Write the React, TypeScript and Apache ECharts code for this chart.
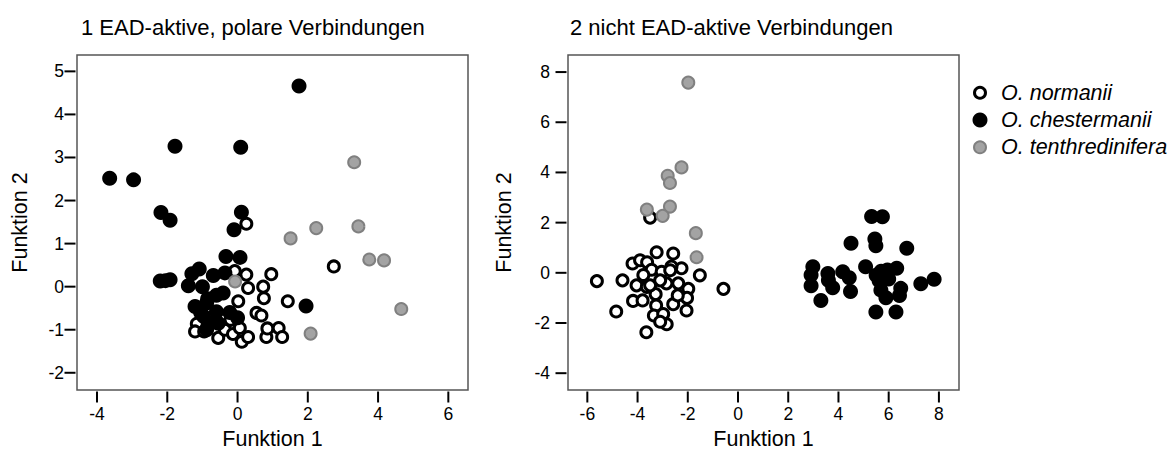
import React, { useEffect, useRef } from "react";
import * as echarts from "echarts";

const titles = ["1 EAD-aktive, polare Verbindungen", "2 nicht EAD-aktive Verbindungen"];
const species = ["O. normanii", "O. chestermanii", "O. tenthredinifera"];
const xName = "Funktion 1";
const yName = "Funktion 2";

const xTicks1 = [-4, -2, 0, 2, 4, 6];
const yTicks1 = [-2, -1, 0, 1, 2, 3, 4, 5];
const xTicks2 = [-6, -4, -2, 0, 2, 4, 6, 8];
const yTicks2 = [-4, -2, 0, 2, 4, 6, 8];

// Panel 1: EAD-aktive, polare Verbindungen
const normanii1 = [
  [0.25, 1.46], [2.74, 0.47], [0.25, 0.28], [0.96, 0.29], [0.73, 0.0], [0.3, -0.03],
  [-0.08, 0.36], [0.75, -0.27], [1.43, -0.34], [0.02, -0.34], [0.54, -0.61], [0.68, -0.67],
  [-1.16, -0.86], [-1.21, -1.04], [-0.95, -1.04], [-0.55, -1.19], [-0.36, -1.0], [-0.13, -1.1],
  [0.065, -0.96], [0.12, -1.28], [0.3, -1.17], [0.82, -1.17], [0.85, -0.97], [1.17, -0.96],
  [1.27, -1.17], [-0.2, -0.77],
];
const chestermanii1 = [
  [1.75, 4.66], [-1.78, 3.26], [0.09, 3.24], [-3.64, 2.52], [-2.96, 2.48], [-2.18, 1.72],
  [-1.92, 1.54], [0.11, 1.73], [-0.1, 1.32], [-0.33, 0.7], [0.07, 0.68], [-2.2, 0.13],
  [-2.05, 0.14], [-1.92, 0.16], [1.95, -0.45], [-1.3, 0.3], [-1.09, 0.41], [-1.4, 0.02],
  [-0.69, 0.26], [-0.36, 0.32], [-1.0, 0.0], [-0.41, -0.15], [-0.85, -0.28], [-1.21, -0.46],
  [-0.88, -0.38], [-0.6, -0.58], [-0.22, -0.6], [0.0, -0.72], [-0.97, -0.69], [-0.8, -0.85],
  [-0.88, -1.0], [-1.05, -0.6], [-0.55, -0.85], [-0.6, -0.2],
];
const tenthredinifera1 = [
  [-0.07, 0.12], [1.51, 1.12], [2.24, 1.36], [3.32, 2.89], [3.44, 1.4], [3.75, 0.63],
  [4.17, 0.61], [4.66, -0.52], [2.08, -1.09],
];

// Panel 2: nicht EAD-aktive Verbindungen
const normanii2 = [
  [-5.62, -0.33], [-4.85, -1.54], [-0.58, -0.64], [-3.65, -2.37], [-3.5, 2.2], [-4.6, -0.3],
  [-4.2, 0.37], [-3.9, 0.5], [-3.62, 0.42], [-3.24, 0.82], [-2.58, 0.77], [-3.44, 0.12],
  [-3.04, 0.04], [-2.25, 0.18], [-2.65, 0.25], [-3.77, -0.09], [-4.04, -0.5], [-3.63, -0.56],
  [-2.85, -0.42], [-2.38, -0.42], [-1.98, -0.64], [-1.52, -0.1], [-4.18, -1.12], [-3.8, -1.1],
  [-3.28, -0.85], [-3.26, -1.3], [-2.58, -1.25], [-2.03, -1.0], [-2.05, -1.5], [-3.35, -1.7],
  [-2.98, -1.64], [-2.84, -2.05], [-3.1, -1.95], [-2.7, 0.1], [-3.5, -0.5], [-3.1, -0.3],
  [-2.4, -0.9],
];
const chestermanii2 = [
  [5.32, 2.24], [5.75, 2.23], [4.5, 1.18], [5.45, 1.35], [5.49, 1.08], [6.72, 0.98],
  [5.08, 0.24], [2.98, 0.24], [2.91, -0.09], [2.91, -0.52], [3.58, -0.03], [3.77, -0.6],
  [3.3, -1.1], [4.17, 0.04], [4.43, -0.2], [4.48, -0.74], [5.7, 0.06], [5.95, 0.11],
  [6.32, 0.18], [5.62, -0.32], [5.69, -0.69], [5.89, -0.99], [6.48, -0.62], [6.43, -0.9],
  [5.49, -1.56], [6.29, -1.56], [7.28, -0.44], [7.81, -0.26], [6.0, -0.25], [5.5, -0.1],
  [3.6, -0.3],
];
const tenthredinifera2 = [
  [-1.98, 7.58], [-2.25, 4.2], [-2.8, 3.87], [-2.71, 3.58], [-2.71, 2.64], [-3.63, 2.52],
  [-3.0, 2.27], [-1.68, 1.58], [-1.65, 0.62],
];

const FONT = "'Liberation Sans', Arial, Helvetica, sans-serif";

const styles = [
  { symbolSize: 11, itemStyle: { color: "#ffffff", borderColor: "#000000", borderWidth: 3, opacity: 1 } },
  { symbolSize: 15, itemStyle: { color: "#000000", borderWidth: 0, opacity: 1 } },
  { symbolSize: 12, itemStyle: { color: "#a3a3a3", borderColor: "#808080", borderWidth: 2, opacity: 1 } },
];

export default function App() {
  const ref = useRef<HTMLDivElement>(null);
  useEffect(() => {
    if (!ref.current) return;
    const chart = echarts.init(ref.current, null, { renderer: "svg" });

    const grids = [
      { left: 77, top: 55, width: 391, height: 335 },
      { left: 568, top: 55, width: 391, height: 335 },
    ];
    const ranges = [
      { xmin: -4.57, xmax: 6.56, ymin: -2.4, ymax: 5.38, xt: xTicks1, yt: yTicks1, ygap: 46, ymargin: 13 },
      { xmin: -6.77, xmax: 8.8, ymin: -4.67, ymax: 8.68, xt: xTicks2, yt: yTicks2, ygap: 53, ymargin: 18 },
    ];

    const xAxis = ranges.map((r, i) => ({
      type: "value",
      gridIndex: i,
      min: r.xmin,
      max: r.xmax,
      name: xName,
      nameLocation: "middle",
      nameGap: 36,
      nameTextStyle: { fontFamily: FONT, fontSize: 21.5, color: "#000" },
      axisLine: { show: false, onZero: false },
      splitLine: { show: false },
      axisTick: { show: false },
      axisLabel: { show: true, margin: 15, fontFamily: FONT, fontSize: 17.5, color: "#000", customValues: r.xt },
    }));
    const yAxis = ranges.map((r, i) => ({
      type: "value",
      gridIndex: i,
      min: r.ymin,
      max: r.ymax,
      name: yName,
      nameLocation: "middle",
      nameGap: r.ygap,
      nameRotate: 90,
      nameTextStyle: { fontFamily: FONT, fontSize: 21.5, color: "#000" },
      axisLine: { show: false, onZero: false },
      splitLine: { show: false },
      axisTick: { show: false },
      axisLabel: { show: true, margin: r.ymargin, fontFamily: FONT, fontSize: 17.5, color: "#000", customValues: r.yt },
    }));

    const panels = [
      [normanii1, chestermanii1, tenthredinifera1],
      [normanii2, chestermanii2, tenthredinifera2],
    ];
    const series: any[] = [];
    panels.forEach((sets, p) => {
      const r = ranges[p];
      // tick marks placed through the axes' own scales, just outside the frame
      series.push({
        type: "scatter",
        xAxisIndex: p,
        yAxisIndex: p,
        data: r.xt.map((v) => [v, r.ymin]),
        symbol: "rect",
        symbolSize: [2, 11],
        symbolOffset: [0, 7],
        clip: false,
        silent: true,
        itemStyle: { color: "#000", opacity: 1 },
      });
      series.push({
        type: "scatter",
        xAxisIndex: p,
        yAxisIndex: p,
        data: r.yt.map((v) => [r.xmin, v]),
        symbol: "rect",
        symbolSize: [11, 2],
        symbolOffset: [-7, 0],
        clip: false,
        silent: true,
        itemStyle: { color: "#000", opacity: 1 },
      });
      sets.forEach((data, s) => {
        series.push({
          type: "scatter",
          name: species[s],
          xAxisIndex: p,
          yAxisIndex: p,
          data,
          symbol: "circle",
          symbolSize: styles[s].symbolSize,
          itemStyle: styles[s].itemStyle,
        });
      });
    });

    const legendY = [92.7, 120, 147.3];
    const legendGraphics: any[] = [];
    species.forEach((name, s) => {
      const st = styles[s];
      legendGraphics.push({
        type: "circle",
        shape: { cx: 980, cy: legendY[s], r: s === 0 ? 5.5 : s === 1 ? 7.5 : 6 },
        style: {
          fill: st.itemStyle.color,
          stroke: s === 1 ? null : st.itemStyle.borderColor,
          lineWidth: st.itemStyle.borderWidth,
        },
      });
      legendGraphics.push({
        type: "text",
        x: 1001,
        y: legendY[s],
        style: {
          text: name,
          fontFamily: FONT,
          fontSize: 21.5,
          fontStyle: "italic",
          fill: "#000",
          verticalAlign: "middle",
          align: "left",
        },
      });
    });

    chart.setOption({
      animation: false,
      title: [
        { text: titles[0], left: 76, top: 11, textStyle: { fontFamily: FONT, fontSize: 22, fontWeight: "normal", color: "#000" } },
        { text: titles[1], left: 565, top: 11, textStyle: { fontFamily: FONT, fontSize: 22, fontWeight: "normal", color: "#000" } },
      ],
      grid: grids.map((g) => ({ ...g, show: true, borderColor: "#555", borderWidth: 1.5 })),
      xAxis,
      yAxis,
      series,
      graphic: legendGraphics,
    });
    return () => chart.dispose();
  }, []);
  return (
    <div
      ref={ref}
      style={{ position: "fixed", left: 0, top: 0, width: 1176, height: 458, background: "#fff" }}
    />
  );
}
